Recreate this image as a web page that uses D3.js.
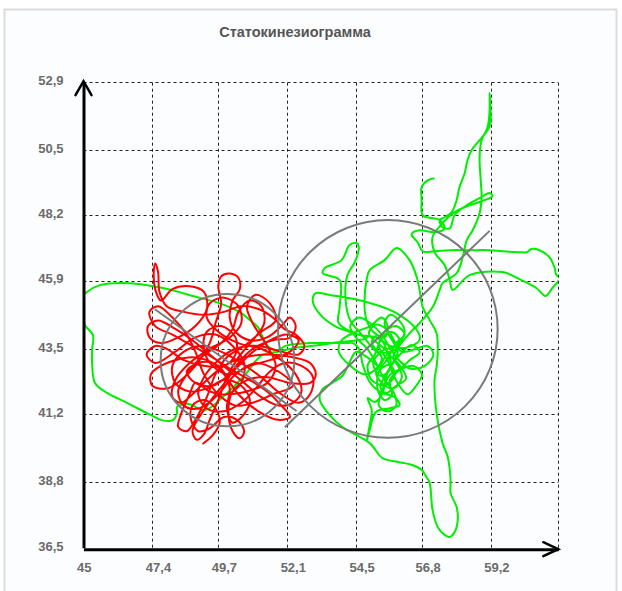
<!DOCTYPE html>
<html>
<head>
<meta charset="utf-8">
<script src="https://cdn.jsdelivr.net/npm/d3@7"></script>
<style>
  html, body { margin: 0; padding: 0; background: #ffffff; }
  svg { display: block; }
  text { font-family: "Liberation Sans", Arial, sans-serif; }
</style>
</head>
<body>
<svg id="chart" width="622" height="591"></svg>
<script>
// ---- data -------------------------------------------------------------
const chartTitle = "Статокинезиограмма";

const xTickValues = [45, 47.4, 49.7, 52.1, 54.5, 56.8, 59.2];
const yTickValues = [36.5, 38.8, 41.2, 43.5, 45.9, 48.2, 50.5, 52.9];
const xDomain = [45, 61.555];
const yDomain = [36.5, 52.9];

// centre-of-pressure trace, eyes open (green)
const greenTrace = [
  [55.68,43.10],[55.5,43.63],[55.26,43.98],[55.05,43.74],[55.33,43.38],[55.85,43.46],[56.02,43.81],[55.75,44.09],
  [55.4,43.88],[55.15,43.28],[54.91,42.93],[55.05,42.4],[55.5,42.22],[55.85,42.57],[55.68,42.93],[55.33,42.75],
  [55.26,42.05],[55.5,41.7],[55.75,41.87],[55.68,42.4],[56.02,42.75],[56.37,43.1],[56.72,43.38],[56.44,43.63],
  [56.02,43.28],[55.61,42.68],[55.4,41.87],[55.15,41.63],[54.91,41.77],[55.05,41.34],[54.98,40.81],[54.88,40.28],
  [54.98,40.64],[55.19,41.27],[55.68,41.41],[56.02,41.52],[55.85,41.8],[55.4,41.95],[55.0,42.3],[54.75,42.9],
  [54.6,43.5],[54.4,43.7],
  [54.11,43.7],[53.59,43.7],[52.89,43.7],[52.09,43.62],[51.74,43.45],[51.42,43.6],[51.25,43.91],[51.08,44.26],
  [50.8,44.51],[50.45,44.79],[49.75,45.1],[48.95,45.32],[47.77,45.64],[46.62,45.81],[45.57,45.74],[45.12,45.5],
  [44.95,45.32],[44.95,44.69],[45.05,44.33],[45.33,43.98],[45.3,43.46],[45.3,43.0],[45.4,42.3],[45.82,41.95],
  [46.52,41.6],[47.32,41.18],[47.73,40.99],[48.12,40.99],[48.26,41.24],[48.26,41.45],[48.47,41.55],[48.71,41.55],
  [49.23,41.34],[49.93,41.87],[50.62,42.57],[51.22,43.28],[51.74,43.39],[52.37,43.53],[53.24,43.63],[53.93,43.74],
  [54.63,43.81],
  [54.9,43.9],[54.63,43.98],[54.11,44.16],[53.83,44.26],[53.24,44.72],[52.99,45.21],[53.1,45.46],[53.59,45.39],
  [54.63,45.21],[55.85,44.79],[56.62,44.16],[56.72,43.81],[56.3,43.55],[55.7,43.6],[55.2,43.9],[54.6,44.0],
  [53.9,44.4],[53.93,44.96],[53.93,45.92],[53.34,46.16],[53.41,46.34],[54.0,46.62],[54.28,47.15],[54.53,47.22],
  [54.6,47.05],[54.46,46.55],[54.2,46.09],[54.14,45.21],[54.3,44.5],[54.7,44.0],[55.1,43.5],[55.4,43.2],
  [55.2,42.8],[54.8,42.6],[54.3,42.9],[53.9,43.4],[54.0,43.8],[54.5,44.1],[55.0,44.3],[55.4,44.6],
  [55.6,44.3],[55.5,43.9],
  [55.1,44.1],[54.87,44.51],[54.8,44.96],[54.87,45.92],[54.98,46.27],[55.5,46.62],[55.92,47.05],[56.37,46.62],
  [56.62,46.02],[56.72,45.57],[56.83,44.96],[57.07,44.51],[57.31,44.05],[57.35,43.4],[57.31,42.86],[57.24,42.4],
  [57.31,41.24],[57.52,40.18],[57.7,39.69],[57.8,38.88],[57.8,38.42],[58.01,37.93],[58.05,37.47],[57.94,37.05],
  [57.77,36.88],[57.59,36.95],[57.35,37.23],[57.17,37.83],[57.07,38.78],[56.96,38.98],[56.79,39.24],[56.47,39.41],
  [56.02,39.51],[55.43,39.65],[54.98,40.18],[54.04,40.74],[53.59,41.16],[53.24,41.7],[53.31,42.05],[53.66,42.29],
  [54.04,42.57],[54.28,43.03],[54.5,43.39],
  [54.9,43.2],[55.3,42.9],[55.6,43.3],[55.9,43.0],[56.1,42.5],[55.8,42.1],[55.4,42.3],[55.2,42.7],
  [55.5,43.0],[55.9,43.7],[56.2,44.0],[55.9,44.3],[55.5,44.1],[55.3,43.6],[55.6,43.1],[55.95,42.3],
  [56.3,41.9],[56.6,42.2],[56.8,42.6],[56.5,42.9],[56.1,42.8],[55.7,42.6],[55.4,42.0],[55.3,41.5],
  [55.6,41.3],[55.9,41.5],[55.8,42.0],[55.5,42.4],[55.2,43.0],[54.9,43.5],[54.5,43.9],[54.3,44.3],
  [54.6,44.6],[55.0,44.4],[55.4,44.0],[55.7,43.5],[56.0,43.1],[56.4,42.8],[56.9,42.9],[57.2,43.3],
  [57.0,43.6],[56.6,43.5],[56.1,43.4],[55.7,43.9],[55.5,44.4],[55.7,44.7],[56.0,44.5],[56.2,44.1],
  [55.9,43.6],[55.45,43.45],[55.1,43.0],[55.35,42.55],[55.7,42.8],[55.6,43.4],[55.25,43.7],[54.95,44.05],
  [55.2,44.35],[55.55,44.2],[55.8,43.85],[55.95,43.35],[55.75,42.95],[55.35,42.15],[55.55,41.95],[55.9,42.2],
  [56.25,42.45],[56.0,42.95],[55.8,43.2],
  [56.37,44.05],[56.65,44.33],[57.17,44.96],[57.42,45.57],[57.52,45.81],[58.01,46.16],[58.22,46.72],[58.36,47.32],
  [58.57,47.67],[58.81,48.27],[58.88,48.83],[58.85,49.43],[58.81,50.24],[58.88,50.84],[59.09,51.3],[59.16,51.9],
  [59.16,52.5],[59.19,51.97],[59.19,51.44],[59.09,51.2],[58.81,50.84],[58.53,50.49],[58.39,50.14],[58.29,49.68],
  [58.11,49.19],[58.01,48.73],[57.84,48.31],[57.59,48.13],[57.42,48.03],[57.52,47.78],[57.77,47.74],[57.94,48.2],
  [58.36,48.55],[58.81,48.8],[59.16,48.98],[59.26,48.87],[58.98,48.73],[58.46,48.55],[57.94,48.31],[57.42,47.81],
  [57.17,47.43],[57.24,46.9],[57.59,46.45],[57.77,45.92],[57.87,45.57],
  [58.46,46.09],[59.61,46.2],[60.2,45.95],[60.79,45.64],[61.11,45.36],[61.35,45.64],[61.53,45.85],[61.65,46.0],
  [61.49,46.09],[61.42,46.37],[61.25,46.72],[60.9,46.97],[60.62,47.01],[60.45,46.9],[60.2,46.9],[59.61,46.93],
  [59.16,46.97],[58.46,46.97],[57.77,46.97],[57.24,46.93],[56.83,46.93],[56.65,47.25],[56.44,47.53],[56.72,47.67],
  [57.24,47.6],[57.59,47.74],[57.42,48.03],[56.83,48.2],[56.79,48.73],[56.79,49.19],[57.0,49.43],[57.24,49.5]
];

// centre-of-pressure trace, eyes closed (red)
const redTrace = [
  [49.15,40.15],[49.5,40.45],[49.75,40.9],[49.6,41.4],[49.2,41.7],[48.8,41.5],[48.75,41.0],[49.0,40.6],
  [49.4,40.7],[49.9,41.1],[50.35,41.0],[50.6,40.6],[50.45,40.35],[50.2,40.6],[50.05,41.3],[50.2,42.0],
  [50.7,42.4],[51.4,42.5],[52.2,42.3],[52.9,42.3],[53.1,42.6],[52.9,43.0],[52.3,43.2],[51.5,43.3],
  [50.6,43.2],[49.9,42.9],[49.3,42.4],[48.8,41.9],[48.4,41.6],[48.1,41.8],[48.2,42.4],[48.7,43.0],
  [49.4,43.5],[50.1,43.9],[50.5,44.4],[50.4,45.0],[49.9,45.3],[49.4,45.1],[49.3,44.6],[49.7,44.1],
  [50.4,43.7],[51.2,43.5],[51.9,43.1],[52.4,42.6],[52.6,42.0],[52.3,41.6],[51.8,41.5],[51.2,41.8],
  [50.6,42.3],[50.0,42.8],[49.4,43.3],[48.8,43.8],[48.2,44.2],[47.6,44.5],[47.25,44.3],[47.3,43.9],
  [47.7,43.7],[48.3,43.9],[48.9,44.3],[49.3,44.9],[49.2,45.5],[48.7,45.7],[48.1,45.6],[47.7,45.2],
  [47.5,45.6],[47.45,46.2],[47.5,46.5],[47.6,46.2],[47.65,45.5],[47.9,45.0],[48.5,44.8],[49.2,44.7],
  [49.9,44.8],[50.5,45.0],[51.1,44.9],[51.6,44.6],[52.0,44.2],[52.4,44.0],[52.7,43.6],[52.5,43.3],
  [51.9,43.4],[51.1,43.6],[50.3,43.5],[49.7,43.1],[49.2,42.5],[49.0,41.9],[49.3,41.4],[49.9,41.3],
  [50.5,41.6],[51.0,42.1],[51.5,42.7],[52.0,43.0],[52.6,42.9],[53.0,42.5],[52.9,41.9],[52.5,41.6],
  [51.9,41.9],[51.2,42.5],[50.5,43.0],[49.8,43.4],[49.1,43.6],[48.5,43.4],[48.1,42.9],[48.2,42.3],
  [48.7,42.0],[49.3,42.1],[49.9,42.4],[50.5,42.2],[50.8,41.7],[50.6,41.2],[50.2,40.9],[50.0,41.4],
  [50.1,42.1],[49.8,42.8],[49.3,43.1],[48.8,43.2],[48.2,43.1],[47.7,42.9],[47.35,42.6],[47.4,42.2],
  [47.9,42.1],[48.4,42.4],[48.9,42.9],[49.4,43.7],[49.6,44.4],[49.8,45.1],[49.7,45.7],[49.8,46.05],
  [50.1,46.15],[50.4,46.0],[50.45,45.6],[50.2,45.2],[50.1,44.6],[50.3,44.1],[50.8,43.8],[51.4,43.9],
  [51.9,44.3],[52.2,44.6],[52.4,44.3],[52.2,43.9],[51.6,43.8],[50.9,43.5],[50.4,43.0],[50.0,42.4],
  [49.6,41.9],[49.1,41.2],[48.8,40.6],[48.95,40.3],[49.2,40.5],[49.4,41.0],[49.7,41.7],[50.0,42.5],
  [50.4,43.2],[50.9,43.8],[51.3,44.4],[51.2,45.0],[50.8,45.2],[50.4,44.8],[50.2,44.2],[49.8,43.7],
  [49.1,43.2],[48.6,42.6],[48.3,42.0],[48.5,41.5],[49.0,41.4],[49.6,41.8],[50.3,42.6],[51.0,43.0],
  [51.8,42.7],[52.3,42.2],
  [51.6,41.9],[50.9,41.6],[50.3,41.5],[49.7,41.9],[49.2,42.6],[48.9,43.4],[48.6,44.0],[48.1,44.6],
  [47.6,45.0],[47.3,44.8],[47.5,44.3],[48.1,44.0],[48.8,43.6],[49.5,43.2],[50.1,42.8],[50.8,42.4],
  [51.4,42.0],[51.9,41.5],[52.2,41.1],[51.8,41.0],[51.1,41.3],[50.4,41.9],[49.9,42.6],[49.5,43.0],
  [49.0,43.0],[48.6,42.7],[48.9,42.3],[49.5,42.2],[50.2,42.7],[50.8,43.3],[51.5,43.8],[52.1,44.0],
  [52.5,43.8],[52.2,43.4],[51.5,43.1],[50.8,42.9],[50.1,42.6],[49.5,42.9],[49.2,43.5],[49.3,44.1],
  [49.8,44.3],[50.3,43.9],[50.3,43.3],[49.9,42.9],[49.2,42.9],[48.5,43.1],[47.9,43.5],[47.5,43.6],
  [47.2,43.3],[47.5,43.0],[48.2,43.4],[48.9,43.9],[49.6,44.0],[50.2,43.6],[50.6,43.0],[50.5,42.3],
  [50.0,41.9],[49.4,42.0],[48.9,42.3],[48.7,41.9],[48.4,41.2],[48.3,40.75],[48.6,40.6],[48.9,41.0],
  [49.3,41.8],[49.6,42.6],[50.0,43.2],[50.6,43.6],[51.2,44.1],[51.7,44.5],[51.5,45.1],[51.0,45.4],
  [50.7,45.0],[50.9,44.4],[51.4,43.6],[51.7,42.9],[51.4,42.3],[50.7,42.0],[50.1,41.9]
];

// dispersion circles (centre, radius) and principal axis segments
const circleCentres = [[50.02, 43.10], [55.61, 44.20]];
const circleRadii = [2.33, 3.83];
const axisSegments = [
  [[47.49, 44.89], [52.43, 41.31]],
  [[52.02, 40.74], [59.16, 47.65]]
];

// ---- layout -----------------------------------------------------------
const svg = d3.select("#chart");
const x = d3.scaleLinear().domain(xDomain).range([83.5, 558.3]);
const y = d3.scaleLinear().domain(yDomain).range([547.7, 81.7]);
const fmt = v => String(v).replace(".", ",");

// outer panel
svg.append("rect")
  .attr("x", 4.5).attr("y", 9.5).attr("width", 612).attr("height", 600)
  .attr("fill", "#fcfdff").attr("stroke", "#dcdcdc").attr("stroke-width", 2);

// title
svg.append("text")
  .attr("x", 295).attr("y", 37)
  .attr("text-anchor", "middle")
  .attr("font-size", 14.5).attr("font-weight", "bold")
  .attr("fill", "#555")
  .text(chartTitle);

// dashed grid
const grid = svg.append("g").attr("stroke", "#222").attr("stroke-width", 1)
  .attr("stroke-dasharray", "3,3").attr("fill", "none");
grid.selectAll("line.v").data(xTickValues.slice(1).concat([xDomain[1]])).join("line")
  .attr("class", "v")
  .attr("x1", d => Math.round(x(d)) + 0.5).attr("x2", d => Math.round(x(d)) + 0.5)
  .attr("y1", y(yDomain[0])).attr("y2", y(yDomain[1]));
grid.selectAll("line.h").data(yTickValues.slice(1)).join("line")
  .attr("class", "h")
  .attr("y1", d => Math.round(y(d)) + 0.5).attr("y2", d => Math.round(y(d)) + 0.5)
  .attr("x1", x(xDomain[0])).attr("x2", x(xDomain[1]));

// clip traces to the plotting area
svg.append("clipPath").attr("id", "plotClip").append("rect")
  .attr("x", x(xDomain[0])).attr("y", y(yDomain[1]))
  .attr("width", x(xDomain[1]) - x(xDomain[0]))
  .attr("height", y(yDomain[0]) - y(yDomain[1]));

const line = d3.line().x(d => x(d[0])).y(d => y(d[1]))
  .curve(d3.curveCatmullRom.alpha(0.5));

const traces = svg.append("g").attr("clip-path", "url(#plotClip)");
traces.append("path").datum(greenTrace)
  .attr("d", line).attr("fill", "none")
  .attr("stroke", "#00ee00").attr("stroke-width", 2).attr("stroke-linejoin", "round");
traces.append("path").datum(redTrace)
  .attr("d", line).attr("fill", "none")
  .attr("stroke", "#ff0000").attr("stroke-width", 2).attr("stroke-linejoin", "round");

// dispersion circles and axes
const stats = svg.append("g").attr("fill", "none").attr("stroke", "#7a7a7a").attr("stroke-width", 2);
stats.selectAll("ellipse").data(circleCentres).join("ellipse")
  .attr("cx", d => x(d[0])).attr("cy", d => y(d[1]))
  .attr("rx", (d, i) => x(d[0] + circleRadii[i]) - x(d[0]))
  .attr("ry", (d, i) => y(d[1]) - y(d[1] + circleRadii[i]));
stats.selectAll("line").data(axisSegments).join("line")
  .attr("x1", d => x(d[0][0])).attr("y1", d => y(d[0][1]))
  .attr("x2", d => x(d[1][0])).attr("y2", d => y(d[1][1]));

// axes
const xAxis = d3.axisBottom(x).tickValues(xTickValues).tickFormat(fmt)
  .tickSize(0).tickSizeOuter(0).tickPadding(14);
const yAxis = d3.axisLeft(y).tickValues(yTickValues).tickFormat(fmt)
  .tickSize(0).tickSizeOuter(0).tickPadding(20);

const gx = svg.append("g").attr("transform", `translate(0,${y(yDomain[0]) + 1.5})`).call(xAxis);
const gy = svg.append("g").attr("transform", `translate(${x(xDomain[0])},0)`).call(yAxis);

[gx, gy].forEach(g => {
  g.select(".domain").attr("stroke", "#000").attr("stroke-width", 3);
  g.selectAll("text")
    .attr("font-family", "'Liberation Sans', Arial, sans-serif")
    .attr("font-size", 13).attr("font-weight", "bold").attr("fill", "#6b6b6b");
});
gx.selectAll("text").attr("text-anchor", "start").attr("x", -7);
gy.selectAll("text").attr("dy", "0.18em");

// arrow heads on the axes
const arrows = svg.append("g").attr("fill", "none").attr("stroke", "#000")
  .attr("stroke-width", 2.5).attr("stroke-linecap", "round").attr("stroke-linejoin", "miter");
const xa = x(xDomain[1]), ya = y(yDomain[0]) + 1.5;
arrows.append("path").attr("d", `M${xa - 15},${ya - 7}L${xa},${ya}L${xa - 15},${ya + 7}`);
const xb = x(xDomain[0]), yb = y(yDomain[1]) - 0.5;
arrows.append("path").attr("d", `M${xb - 8},${yb + 14}L${xb},${yb}L${xb + 8},${yb + 14}`);
</script>
</body>
</html>
